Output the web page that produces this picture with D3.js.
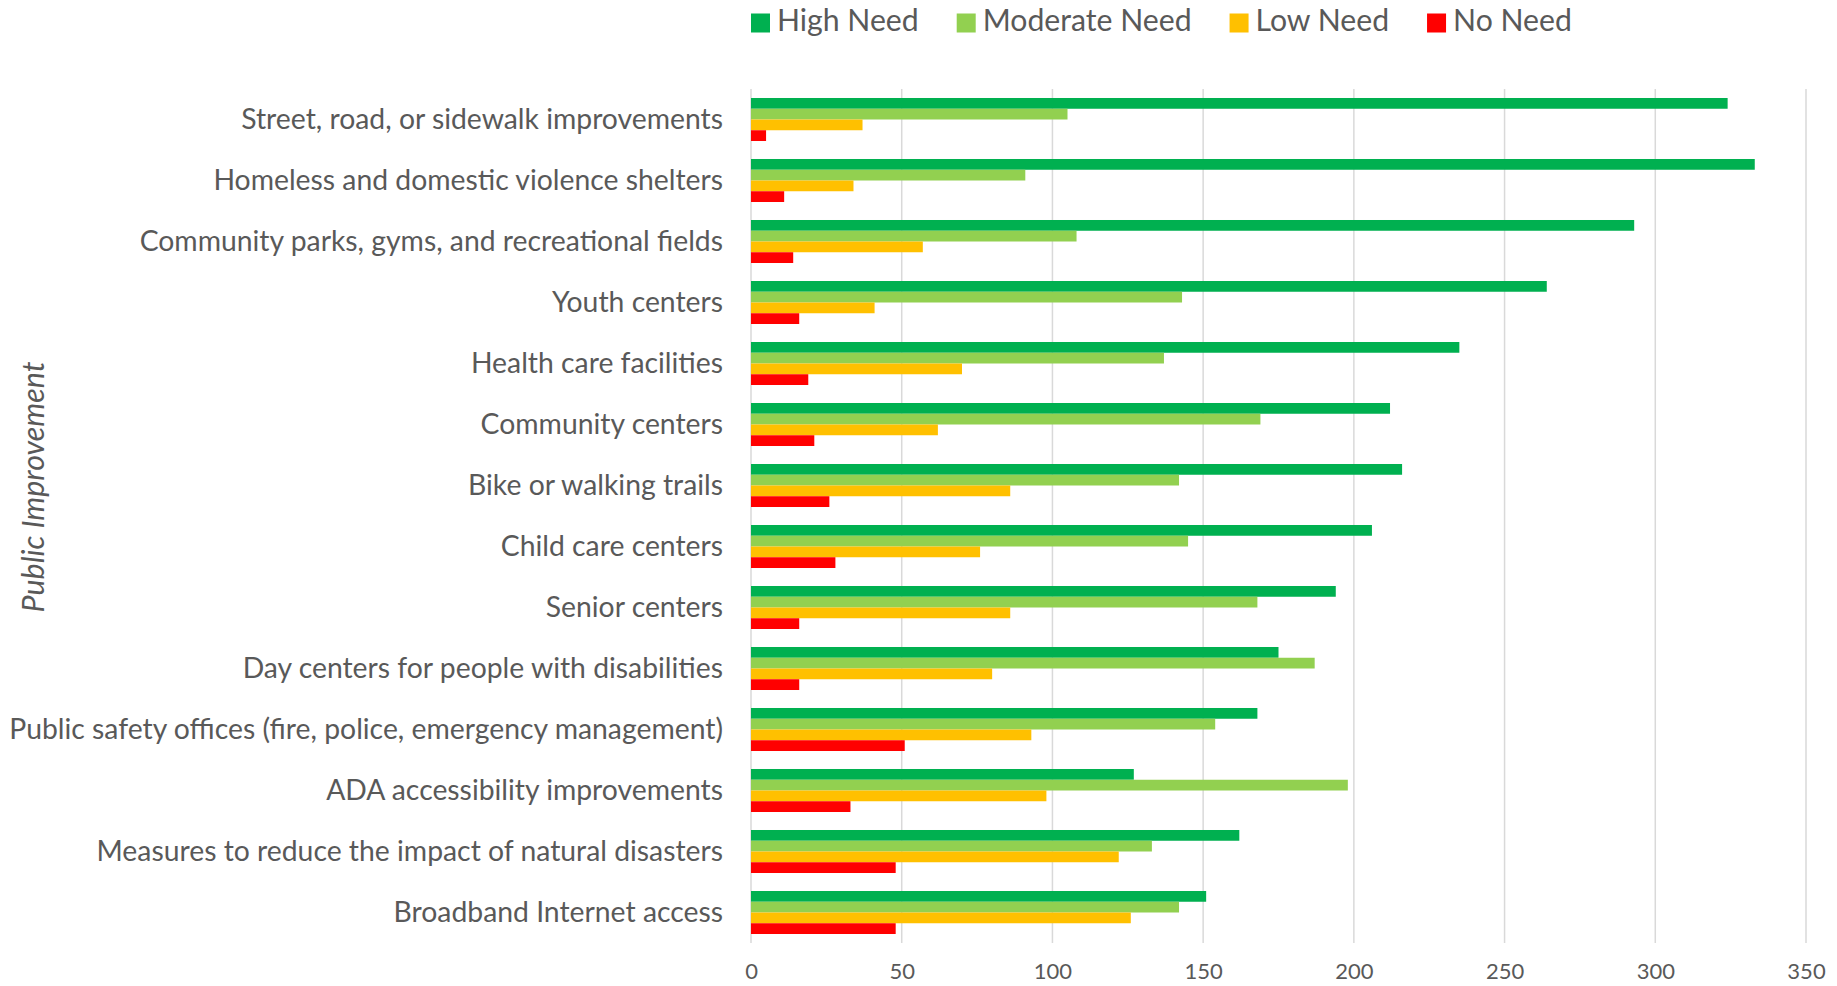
<!DOCTYPE html>
<html>
<head>
<meta charset="utf-8">
<script src="https://cdn.jsdelivr.net/npm/d3@7"></script>
<style>
  html, body { margin: 0; padding: 0; background: #fff; }
  svg { display: block; }
  text { font-family: Lato, "Open Sans", sans-serif; fill: #595959; }
</style>
</head>
<body>
<svg id="chart" width="1837" height="986"></svg>
<script>
const categories = [
  "Street, road, or sidewalk improvements",
  "Homeless and domestic violence shelters",
  "Community parks, gyms, and recreational fields",
  "Youth centers",
  "Health care facilities",
  "Community centers",
  "Bike or walking trails",
  "Child care centers",
  "Senior centers",
  "Day centers for people with disabilities",
  "Public safety offices (fire, police, emergency management)",
  "ADA accessibility improvements",
  "Measures to reduce the impact of natural disasters",
  "Broadband Internet access"
];
const highNeed     = [324, 333, 293, 264, 235, 212, 216, 206, 194, 175, 168, 127, 162, 151];
const moderateNeed = [105,  91, 108, 143, 137, 169, 142, 145, 168, 187, 154, 198, 133, 142];
const lowNeed      = [ 37,  34,  57,  41,  70,  62,  86,  76,  86,  80,  93,  98, 122, 126];
const noNeed       = [  5,  11,  14,  16,  19,  21,  26,  28,  16,  16,  51,  33,  48,  48];
const seriesNames  = ["High Need", "Moderate Need", "Low Need", "No Need"];
const seriesColors = ["#00B050", "#92D050", "#FFC000", "#FF0000"];
const xTicks       = [0, 50, 100, 150, 200, 250, 300, 350];
const axisTitle    = "Public Improvement";

const seriesValues = [highNeed, moderateNeed, lowNeed, noNeed];

const svg = d3.select("#chart");

const plotLeft = 751, plotRight = 1806, plotTop = 89, plotBottom = 943;

const x = d3.scaleLinear().domain([0, 350]).range([plotLeft, plotRight]);
const y = d3.scaleBand().domain(categories).range([plotTop, plotBottom])
  .paddingInner(0.295).paddingOuter(0.1475);
const sub = d3.scaleBand().domain(seriesNames).range([0, y.bandwidth()]);

// fit helper
function fitFont(style, text, targetWidth, base) {
  const t = svg.append("text").attr("font-size", base).text(text);
  if (style) t.attr("font-style", style);
  const w = t.node().getComputedTextLength();
  t.remove();
  return base * targetWidth / w;
}

// gridlines
svg.append("g").selectAll("line").data(xTicks).join("line")
  .attr("x1", d => x(d)).attr("x2", d => x(d))
  .attr("y1", plotTop).attr("y2", plotBottom)
  .attr("stroke", "#D9D9D9").attr("stroke-width", 1.5);

// bars
const groups = svg.append("g").selectAll("g").data(categories).join("g")
  .attr("transform", d => `translate(0,${y(d)})`);
groups.selectAll("rect")
  .data((c, i) => seriesNames.map((s, k) => ({ s, k, v: seriesValues[k][i] })))
  .join("rect")
  .attr("x", x(0))
  .attr("y", d => sub(d.s))
  .attr("width", d => x(d.v) - x(0))
  .attr("height", sub.bandwidth())
  .attr("fill", d => seriesColors[d.k]);

// x axis
const tickFont = 22;
const xAxis = svg.append("g").attr("transform", `translate(0,${plotBottom})`)
  .call(d3.axisBottom(x).tickValues(xTicks).tickSize(0).tickPadding(20).tickFormat(d3.format("d")));
xAxis.select(".domain").remove();
xAxis.selectAll("text").attr("font-size", tickFont).attr("font-family", "Lato, 'Open Sans', sans-serif").attr("fill", "#595959");

// y axis labels
const labelFont = fitFont(null, categories[10], 714, 26);
const yAxis = svg.append("g").attr("transform", `translate(${plotLeft},0)`)
  .call(d3.axisLeft(y).tickSize(0).tickPadding(28));
yAxis.select(".domain").remove();
yAxis.selectAll("text").attr("font-size", labelFont).attr("font-family", "Lato, 'Open Sans', sans-serif").attr("fill", "#595959");

// axis title
const titleFont = fitFont("italic", axisTitle, 251, 26);
svg.append("text")
  .attr("transform", `translate(36,487) rotate(-90)`)
  .attr("text-anchor", "middle")
  .attr("dominant-baseline", "middle")
  .attr("font-style", "italic")
  .attr("font-size", titleFont)
  .text(axisTitle);

// legend
const legendFont = fitFont(null, "Moderate Need", 209, 30);
const legend = svg.append("g");
let lx = plotLeft;
const ly = 23, sq = 19;
seriesNames.forEach((name, k) => {
  legend.append("rect").attr("x", lx).attr("y", ly - sq / 2).attr("width", sq).attr("height", sq)
    .attr("fill", seriesColors[k]);
  const t = legend.append("text").attr("x", lx + sq + 7).attr("y", ly)
    .attr("dominant-baseline", "middle").attr("font-size", legendFont).text(name);
  const w = t.node().getComputedTextLength();
  lx = lx + sq + 7 + w + 38;
});
</script>
</body>
</html>
